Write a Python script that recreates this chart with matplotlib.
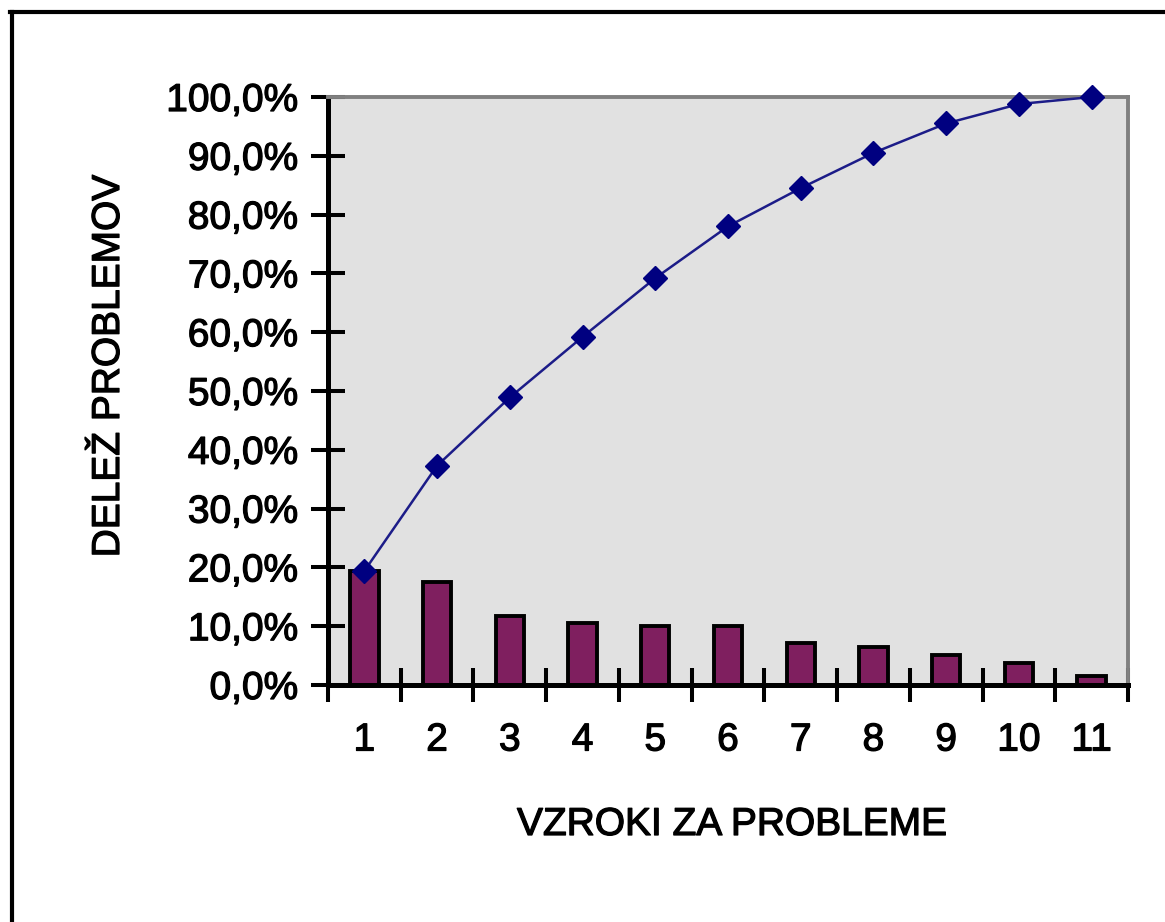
import numpy as np
import matplotlib.pyplot as plt
import matplotlib.patheffects as pe
from matplotlib.lines import Line2D
from matplotlib.ticker import FixedLocator, FuncFormatter

plt.rcParams['font.family'] = ['Liberation Sans', 'DejaVu Sans']

# Data
causes = ['1', '2', '3', '4', '5', '6', '7', '8', '9', '10', '11']
share = [19.4, 17.5, 11.8, 10.6, 10.0, 10.0, 7.2, 6.5, 5.1, 3.7, 1.6]
cumulative = [19.4, 37.3, 48.9, 59.2, 69.2, 78.0, 84.5, 90.5, 95.5, 98.8, 100.0]
y_ticks = [0, 10, 20, 30, 40, 50, 60, 70, 80, 90, 100]

W, H = 1165, 922
fig = plt.figure(figsize=(W / 100, H / 100), dpi=100)
ax = fig.add_axes([328 / W, 1 - 685 / H, 800 / W, (685 - 97) / H])
ax.set_facecolor('#e1e1e1')

# slightly heavier text, like the scanned original
heavy = [pe.withStroke(linewidth=0.9, foreground='black')]

x = np.arange(1, len(causes) + 1)
ax.bar(x, share, width=0.39, color='#7f1f5f', edgecolor='black', linewidth=2.8, zorder=2)
ax.plot(x, cumulative, color='#1c1c88', linewidth=1.8, marker='D', markersize=12,
        markerfacecolor='#000080', markeredgecolor='#000080', zorder=3, clip_on=False)

ax.set_xlim(0.5, len(causes) + 0.5)
ax.set_ylim(0, 100)

# spines
for s in ['left', 'bottom']:
    ax.spines[s].set_color('black')
    ax.spines[s].set_linewidth(3.6)
for s in ['top', 'right']:
    ax.spines[s].set_color('#808080')
    ax.spines[s].set_linewidth(2.8)

# y ticks
ax.set_yticks(y_ticks)
ax.yaxis.set_major_formatter(FuncFormatter(lambda v, p: f'{v:.1f}%'.replace('.', ',')))
ax.tick_params(axis='y', direction='inout', length=25, width=2.9, pad=9,
               labelsize=28, colors='black')

# x ticks: marks at category boundaries, labels at centres
ax.xaxis.set_major_locator(FixedLocator(np.arange(0.5, len(causes) + 1, 1.0)))
ax.xaxis.set_major_formatter(FuncFormatter(lambda v, p: ''))
ax.xaxis.set_minor_locator(FixedLocator(x))
ax.xaxis.set_minor_formatter(FuncFormatter(lambda v, p: causes[int(round(v)) - 1]))
ax.tick_params(axis='x', which='major', direction='inout', length=24, width=2.9)
ax.tick_params(axis='x', which='minor', length=0, pad=27, labelsize=28)

for lab in ax.get_yticklabels() + ax.get_xticklabels(minor=True):
    lab.set_path_effects(heavy)

fig.text(109 / W, 1 - 366 / H, 'DELEŽ PROBLEMOV', rotation=90, fontsize=28,
         ha='center', va='center', path_effects=heavy)
fig.text(732 / W, 1 - 835 / H, 'VZROKI ZA PROBLEME', fontsize=28,
         ha='center', va='baseline', path_effects=heavy)

# outer frame (left and top edges only)
fig.add_artist(Line2D([12 / W, 12 / W], [0, 1 - 12 / H], color='black', linewidth=3,
                      transform=fig.transFigure))
fig.add_artist(Line2D([10 / W, 1], [1 - 12 / H, 1 - 12 / H], color='black', linewidth=3,
                      transform=fig.transFigure))

fig.savefig('out.png', dpi=100)
